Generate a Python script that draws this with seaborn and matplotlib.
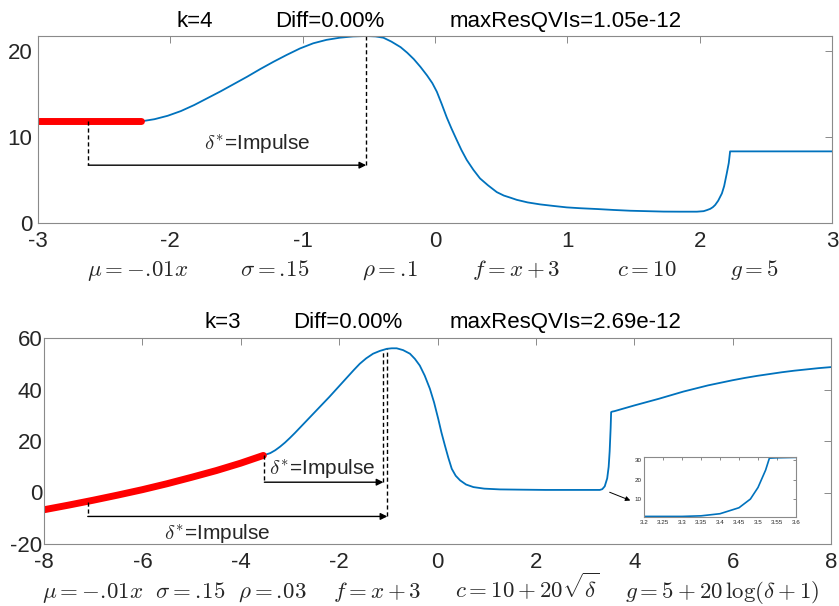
import matplotlib
matplotlib.use('Agg')
import matplotlib.pyplot as plt
import seaborn as sns

sns.set_style('white')
plt.rcParams['font.family'] = ['Liberation Sans', 'DejaVu Sans']
plt.rcParams['mathtext.fontset'] = 'cm'
plt.rcParams['axes.unicode_minus'] = False

# ---- data ----
# top panel (k=4)
top_red_x = [-3.0, -2.6, -2.22]
top_red_y = [11.85, 11.85, 11.85]
top_blue_x = [-2.22, -2.12, -2.02, -1.92, -1.82, -1.72, -1.62, -1.52, -1.42, -1.32,
              -1.22, -1.12, -1.02, -0.92, -0.82, -0.72, -0.62, -0.52, -0.45, -0.39,
              -0.33, -0.26, -0.21, -0.16, -0.11, -0.06, -0.02, 0.014, 0.05, 0.089,
              0.125, 0.165, 0.20, 0.24, 0.29, 0.34, 0.40, 0.467, 0.52, 0.57,
              0.618, 0.70, 0.794, 0.90, 0.996, 1.10, 1.223, 1.35, 1.475, 1.60,
              1.727, 1.85, 1.979, 2.03, 2.054, 2.08, 2.10, 2.117, 2.14, 2.168,
              2.185, 2.205, 2.22, 2.23, 3.00]
top_blue_y = [11.85, 12.1, 12.5, 13.05, 13.75, 14.55, 15.35, 16.2, 17.05, 17.95,
              18.8, 19.6, 20.35, 20.95, 21.35, 21.6, 21.75, 21.8, 21.75, 21.6,
              21.15, 20.5, 19.85, 19.1, 18.2, 17.2, 16.3, 15.3, 13.9, 12.3,
              11.0, 9.65, 8.5, 7.35, 6.2, 5.2, 4.4, 3.6, 3.2, 2.95,
              2.7, 2.4, 2.17, 1.98, 1.82, 1.72, 1.63, 1.52, 1.43, 1.38,
              1.33, 1.32, 1.32, 1.38, 1.5, 1.65, 1.85, 2.1, 2.6, 3.45,
              4.3, 5.8, 7.0, 8.35, 8.35]

# bottom panel (k=3)
bot_red_x = [-8.0, -7.5, -7.0, -6.5, -6.0, -5.5, -5.0, -4.5, -4.0, -3.54]
bot_red_y = [-6.7, -4.9, -3.0, -1.0, 1.1, 3.4, 5.9, 8.5, 11.4, 14.4]
bot_blue_x = [-3.54, -3.40, -3.30, -3.20, -3.10, -3.00, -2.90, -2.80, -2.70, -2.60,
              -2.50, -2.40, -2.30, -2.20, -2.10, -2.00, -1.90, -1.80, -1.70, -1.58,
              -1.45, -1.31, -1.17, -1.03, -0.93, -0.83, -0.70, -0.56, -0.46, -0.36,
              -0.26, -0.155, -0.07, 0.015, 0.08, 0.15, 0.22, 0.29, 0.37, 0.46,
              0.58, 0.73, 0.95, 1.27, 1.70, 2.20, 2.70, 3.00, 3.20, 3.30,
              3.35, 3.40, 3.45, 3.48, 3.50, 3.52, 3.53, 3.55, 3.60, 3.80,
              4.00, 4.25, 4.50, 4.75, 5.00, 5.25, 5.50, 5.75, 6.00, 6.25,
              6.50, 6.75, 7.00, 7.25, 7.50, 7.75, 8.00]
bot_blue_y = [14.4, 15.3, 16.4, 17.8, 19.4, 21.2, 23.1, 25.1, 27.1, 29.1,
              31.1, 33.1, 35.1, 37.1, 39.2, 41.3, 43.4, 45.5, 47.6, 50.0,
              52.1, 53.9, 55.0, 55.8, 56.0, 56.0, 55.3, 53.9, 51.9, 49.3,
              45.4, 40.3, 35.0, 28.6, 23.3, 18.3, 13.5, 9.2, 6.5, 4.7,
              3.1, 2.1, 1.5, 1.2, 1.1, 1.0, 1.0, 1.0, 1.0, 1.0,
              1.3, 2.4, 5.5, 10.0, 16.0, 25.0, 31.2, 31.4, 31.6, 32.7,
              33.8, 35.1, 36.4, 37.8, 39.2, 40.4, 41.6, 42.6, 43.6, 44.5,
              45.3, 46.0, 46.7, 47.3, 47.8, 48.3, 48.7]

# arrows: (x_start, x_end, y_level, y_start_curve, y_end_curve)
top_arrow = [-2.62, -0.52, 6.74, 11.85, 21.8]
bot_arrow_1 = [-3.52, -1.10, 4.0, 14.4, 55.3]
bot_arrow_2 = [-7.11, -1.02, -9.3, -3.5, 55.8]

top_titles = ['k=4', 'Diff=0.00%', 'maxResQVIs=1.05e-12']
bot_titles = ['k=3', 'Diff=0.00%', 'maxResQVIs=2.69e-12']
top_params = [r'$\mu=-.\!01x$', r'$\sigma=.\!15$', r'$\rho=.\!1$', r'$f=x+3$', r'$c=10$', r'$g=5$']
bot_params = [r'$\mu=-.\!01x\ \ \sigma=.\!15\ \ \rho=.\!03$', r'$f=x+3$',
              r'$c=10+20\sqrt{\delta}$', r'$g=5+20\,\log(\delta+1)$']
impulse_label = r'$\delta^{*}$=Impulse'

W, H = 839, 606
blue = '#0072BD'
edge = '#8a8a8a'
dark = '#262626'


def matlab_axes(ax, fs=16, xpad=6, ypad=3, length=5):
    for s in ax.spines.values():
        s.set_color(edge)
        s.set_linewidth(0.8)
    ax.tick_params(direction='in', top=True, right=True, length=length, width=0.7,
                   color=edge, labelcolor=dark, labelsize=fs)
    ax.tick_params(axis='x', pad=xpad)
    ax.tick_params(axis='y', pad=ypad)
    ax.set_xlabel('')
    ax.set_ylabel('')


def draw_arrow(ax, a):
    x0, x1, yl, yc0, yc1 = a
    ax.plot([x0, x0], [yc0, yl], color='k', lw=1, ls=(0, (3, 2)))
    ax.plot([x1, x1], [yl, yc1], color='k', lw=1, ls=(0, (3, 2)))
    ax.annotate('', xy=(x1, yl), xytext=(x0, yl),
                arrowprops=dict(arrowstyle='-|>', color='k', lw=1,
                                mutation_scale=10, shrinkA=0, shrinkB=0))


fig = plt.figure(figsize=(W / 100, H / 100), dpi=100)
ax1 = fig.add_axes([38 / W, 1 - 223 / H, (832 - 38) / W, (223 - 36) / H])
ax2 = fig.add_axes([44 / W, 1 - 544 / H, (831 - 44) / W, (544 - 338) / H])

# top panel
sns.lineplot(x=top_blue_x, y=top_blue_y, ax=ax1, color=blue, linewidth=1.3)
sns.lineplot(x=top_red_x, y=top_red_y, ax=ax1, color='red', linewidth=5,
             solid_capstyle='round')
draw_arrow(ax1, top_arrow)
ax1.text(-1.34, 9.3, impulse_label, ha='center', va='center', fontsize=15)
ax1.set_xlim(-3, 3)
ax1.set_ylim(0, 21.8)
ax1.set_xticks(range(-3, 4))
ax1.set_yticks([0, 10, 20])
matlab_axes(ax1, ypad=4)

# bottom panel
sns.lineplot(x=bot_blue_x, y=bot_blue_y, ax=ax2, color=blue, linewidth=1.3)
sns.lineplot(x=bot_red_x, y=bot_red_y, ax=ax2, color='red', linewidth=5,
             solid_capstyle='round')
draw_arrow(ax2, bot_arrow_1)
draw_arrow(ax2, bot_arrow_2)
ax2.text(-2.35, 9.2, impulse_label, ha='center', va='center', fontsize=15)
ax2.text(-4.47, -16, impulse_label, ha='center', va='center', fontsize=15)
ax2.set_xlim(-8, 8)
ax2.set_ylim(-20, 60)
ax2.set_xticks(range(-8, 9, 2))
ax2.set_yticks(range(-20, 61, 20))
matlab_axes(ax2, ypad=1)
ax2.annotate('', xy=(3.92, -3.1), xytext=(3.5, 0.1),
             arrowprops=dict(arrowstyle='-|>', color='k', lw=0.7,
                             mutation_scale=7, shrinkA=0, shrinkB=0))

# inset zoom of the jump
ax3 = fig.add_axes([644 / W, 1 - 517 / H, (796 - 644) / W, (517 - 457) / H])
sns.lineplot(x=bot_blue_x, y=bot_blue_y, ax=ax3, color=blue, linewidth=1.2)
ax3.set_xlim(3.2, 3.6)
ax3.set_ylim(0.7, 31.8)
ax3.set_xticks([3.2, 3.25, 3.3, 3.35, 3.4, 3.45, 3.5, 3.55, 3.6])
ax3.set_xticklabels(['3.2', '3.25', '3.3', '3.35', '3.4', '3.45', '3.5', '3.55', '3.6'])
ax3.set_yticks([10, 20, 30])
matlab_axes(ax3, fs=4.5, xpad=2, ypad=1.5, length=2)

# titles (left edges measured on the reference)
for txt, lx in zip(top_titles, [177, 275, 450]):
    fig.text(lx / W, 1 - 27 / H, txt, ha='left', va='baseline', fontsize=16, color='k')
for txt, lx in zip(bot_titles, [205, 293, 450]):
    fig.text(lx / W, 1 - 328 / H, txt, ha='left', va='baseline', fontsize=16, color='k')

# parameter lines under the axes
for txt, lx in zip(top_params, [87, 240, 362, 472, 617, 730]):
    fig.text(lx / W, 1 - 276 / H, txt, ha='left', va='baseline', fontsize=16.5, color=dark)
for txt, lx in zip(bot_params, [42, 333, 455, 625]):
    fig.text(lx / W, 1 - 598 / H, txt, ha='left', va='baseline', fontsize=16.5, color=dark)

fig.savefig('out.png', dpi=100)
